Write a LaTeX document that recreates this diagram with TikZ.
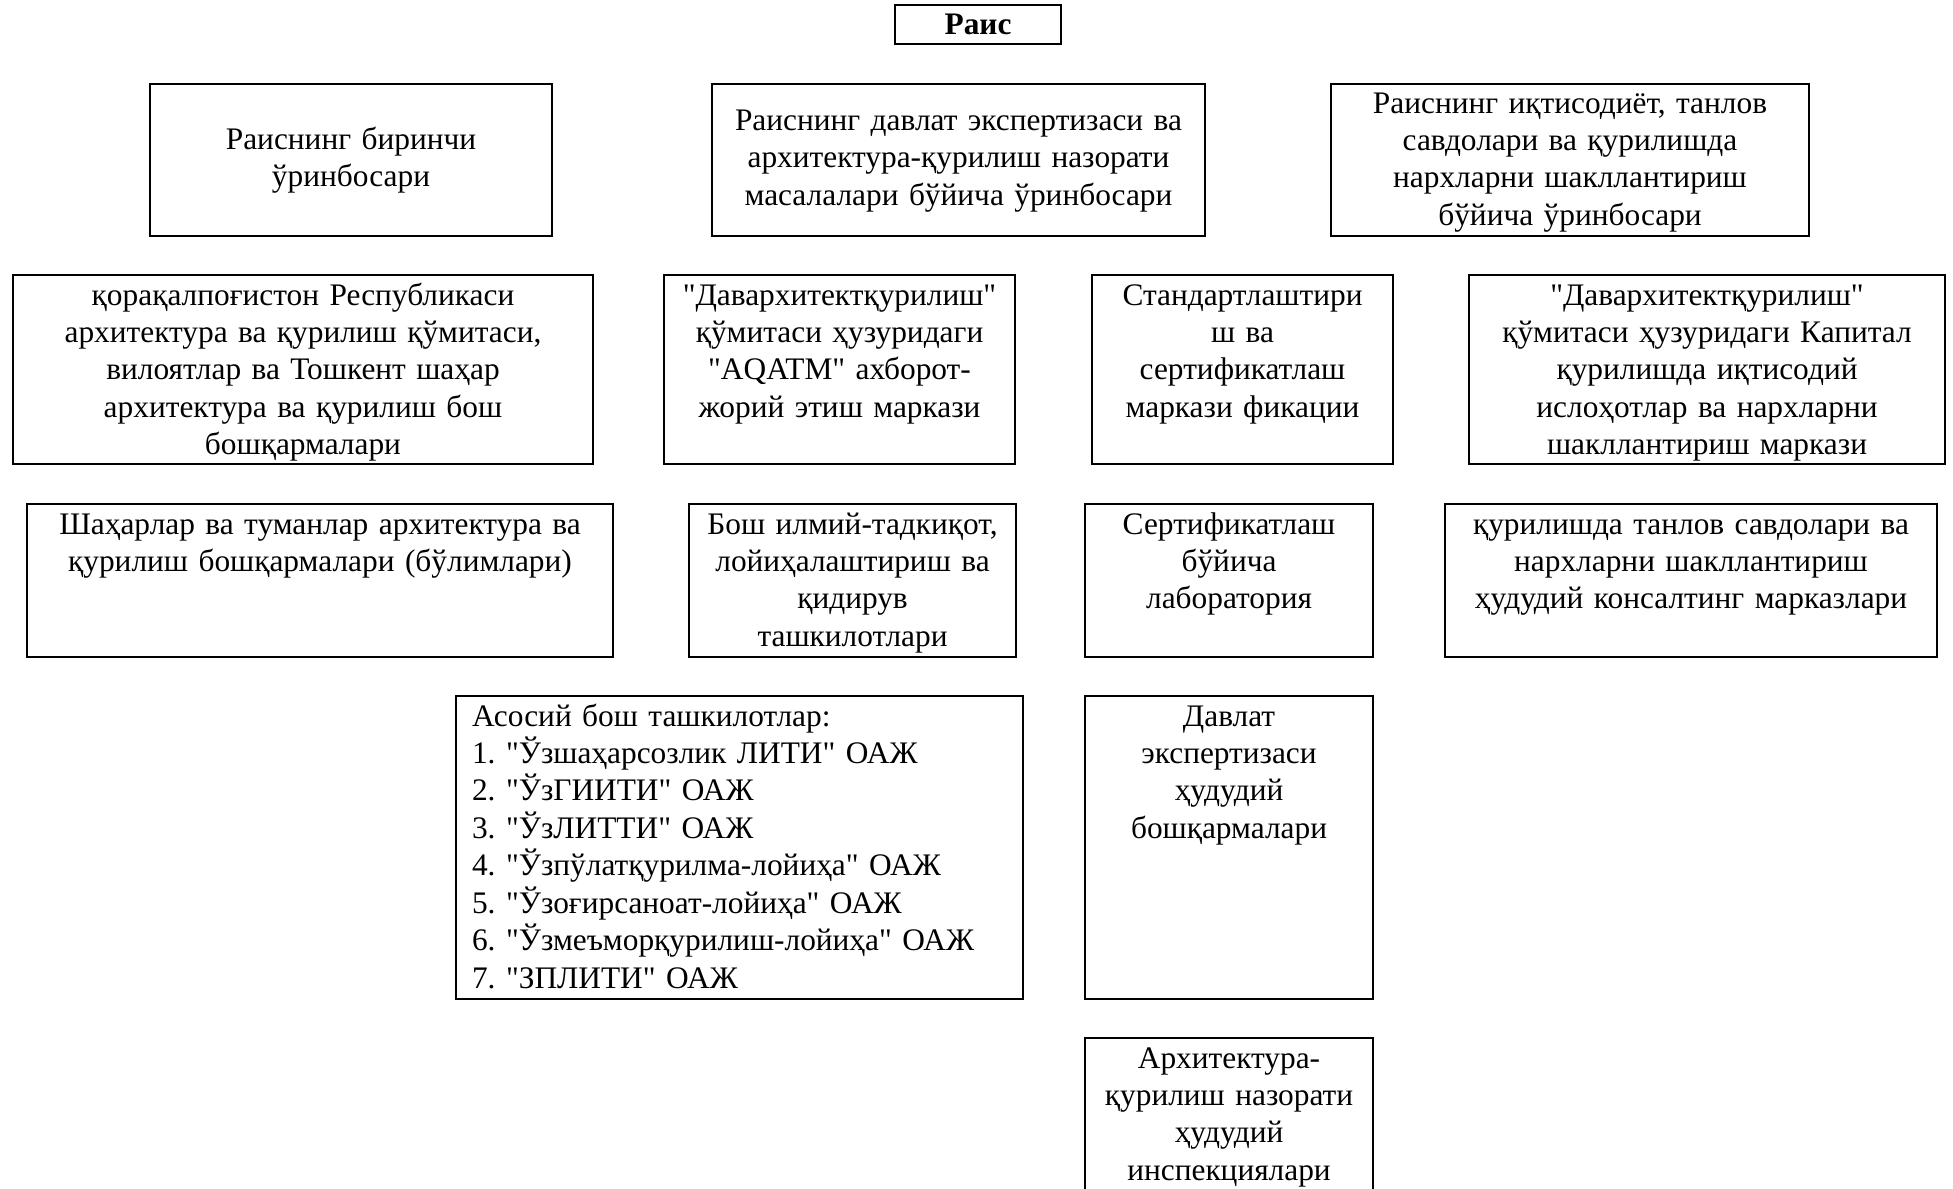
\documentclass[tikz,border=0pt]{standalone}
\usepackage{fontspec}
\setmainfont{Liberation Serif}[Ligatures=TeXOff]
\newcommand\boxfont{\fontsize{17.85}{21.3}\selectfont\frenchspacing}

\begin{document}
\begin{tikzpicture}[x=0.02cm, y=-0.02cm,
  unit/.style={draw, line width=1.2pt, anchor=north west, inner sep=0pt,
    align=center, font=\boxfont, text height=0.6cm},
  rowtwo/.style={unit, text width=#1, text depth=3.18cm},
  rowthree/.style={unit, text width=#1, text depth=2.46cm},
  rowfour/.style={unit, text width=#1, text depth=5.46cm}]
\useasboundingbox (0,0) rectangle (1953,1189);

\node[draw, line width=1.2pt, inner sep=0pt, minimum width=3.32cm, minimum height=0.78cm,
  font=\boxfont\bfseries] (rais) at (978,24.5) {Раис};

\node[unit, text width=8.04cm, text height=1.3cm, text depth=1.74cm] (first) at (149,83)
  {Раиснинг биринчи\\ўринбосари};
\node[unit, text width=9.86cm, text height=0.93cm, text depth=2.11cm] (expert) at (711,83)
  {Раиснинг давлат экспертизаси ва\\архитектура-қурилиш назорати\\масалалари бўйича ўринбосари};
\node[unit, text width=9.56cm, text height=0.58cm, text depth=2.46cm] (econ) at (1330,83)
  {Раиснинг иқтисодиёт, танлов\\савдолари ва қурилишда\\нархларни шакллантириш\\бўйича ўринбосари};

\node[rowtwo=11.6cm] (karak) at (12,274)
  {қорақалпоғистон Республикаси\\архитектура ва қурилиш қўмитаси,\\вилоятлар ва Тошкент шаҳар\\архитектура ва қурилиш бош\\бошқармалари};
\node[rowtwo=7.02cm] (aqatm) at (663,274)
  {"Давархитектқурилиш"\\қўмитаси ҳузуридаги\\"AQATM" ахборот-\\жорий этиш маркази};
\node[rowtwo=6.02cm] (standart) at (1091,274)
  {Стандартлаштири\\ш ва\\сертификатлаш\\маркази фикации};
\node[rowtwo=9.52cm] (kapital) at (1468,274)
  {"Давархитектқурилиш"\\қўмитаси ҳузуридаги Капитал\\қурилишда иқтисодий\\ислоҳотлар ва нархларни\\шакллантириш маркази};

\node[rowthree=11.72cm] (shahar) at (26,503)
  {Шаҳарлар ва туманлар архитектура ва\\қурилиш бошқармалари (бўлимлари)};
\node[rowthree=6.54cm] (ilmiy) at (688,503)
  {Бош илмий-тадкиқот,\\лойиҳалаштириш ва\\қидирув\\ташкилотлари};
\node[rowthree=5.76cm] (lab) at (1084,503)
  {Сертификатлаш\\бўйича\\лаборатория};
\node[rowthree=9.84cm] (konsalt) at (1444,503)
  {қурилишда танлов савдолари ва\\нархларни шакллантириш\\ҳудудий консалтинг марказлари};

\node[rowfour=10.7cm, align=left, inner xsep=0.32cm] (asosiy) at (455,695)
  {Асосий бош ташкилотлар:\\
   1. "Ўзшаҳарсозлик ЛИТИ" ОАЖ\\
   2. "ЎзГИИТИ" ОАЖ\\
   3. "ЎзЛИТТИ" ОАЖ\\
   4. "Ўзпўлатқурилма-лойиҳа" ОАЖ\\
   5. "Ўзоғирсаноат-лойиҳа" ОАЖ\\
   6. "Ўзмеъморқурилиш-лойиҳа" ОАЖ\\
   7. "ЗПЛИТИ" ОАЖ};
\node[rowfour=5.76cm] (hududiy) at (1084,695)
  {Давлат\\экспертизаси\\ҳудудий\\бошқармалари};

\node[unit, text width=5.76cm, text depth=3.4cm] (inspek) at (1084,1037)
  {Архитектура-\\қурилиш назорати\\ҳудудий\\инспекциялари};
\end{tikzpicture}
\end{document}
